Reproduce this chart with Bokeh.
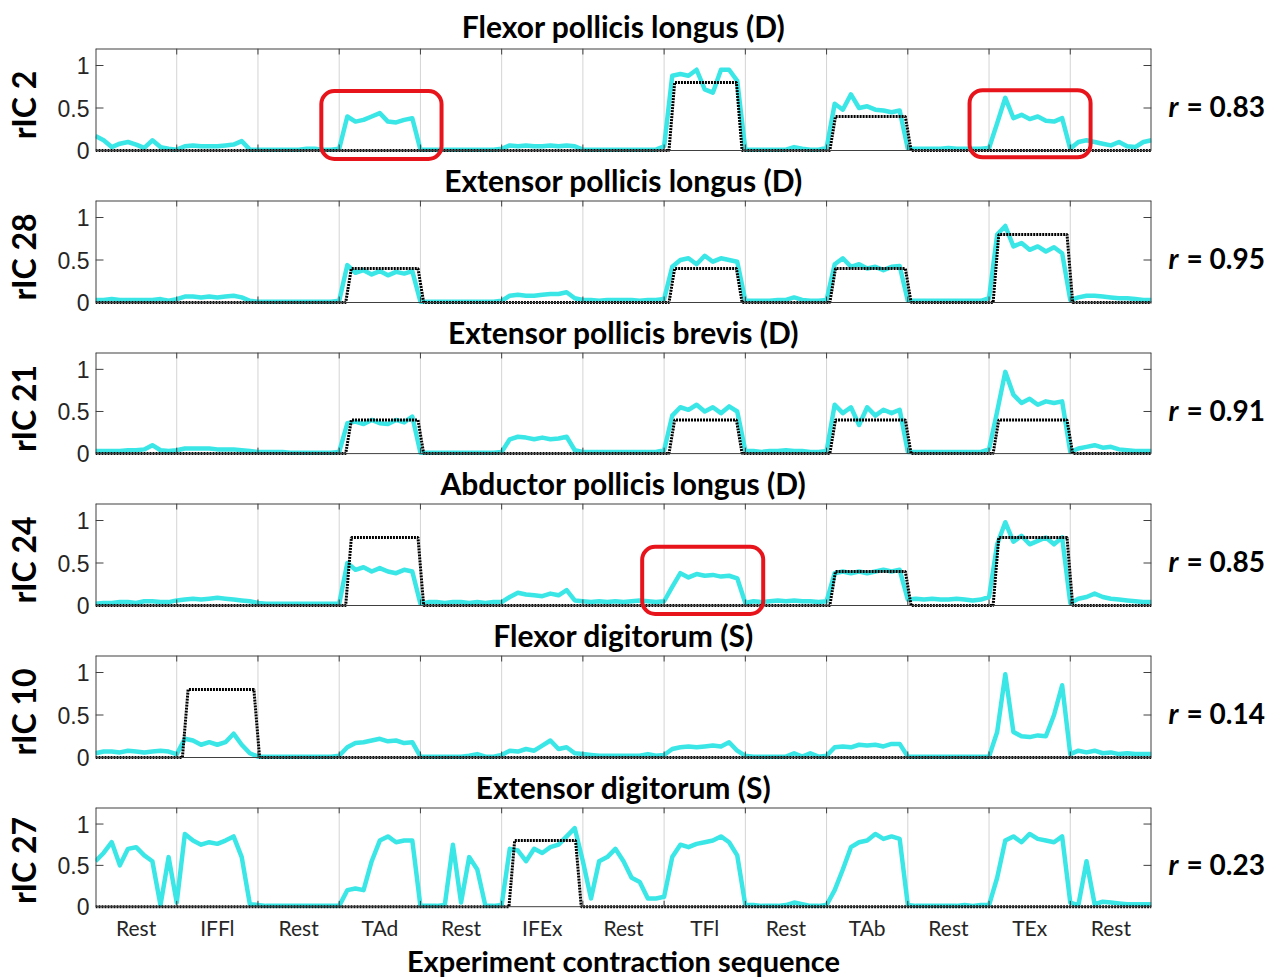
import numpy as np
from bokeh.plotting import figure
from bokeh.models import Range1d, FixedTicker, LinearAxis, BoxAnnotation
from bokeh.layouts import column
from bokeh.embed import file_html
from bokeh.resources import INLINE

# ---------------------------------------------------------------- data
phases = ["Rest", "IFFl", "Rest", "TAd", "Rest", "IFEx", "Rest",
          "TFl", "Rest", "TAb", "Rest", "TEx", "Rest"]

muscles = ["Flexor pollicis longus (D)", "Extensor pollicis longus (D)",
           "Extensor pollicis brevis (D)", "Abductor pollicis longus (D)",
           "Flexor digitorum (S)", "Extensor digitorum (S)"]
components = ["rIC 2", "rIC 28", "rIC 21", "rIC 24", "rIC 10", "rIC 27"]
r_values = [0.83, 0.95, 0.91, 0.85, 0.14, 0.23]

# expected activation level of each muscle per phase (dotted reference)
expected_fpl = [0, 0, 0, 0, 0, 0, 0, 0.8, 0, 0.4, 0, 0, 0]
expected_epl = [0, 0, 0, 0.4, 0, 0, 0, 0.4, 0, 0.4, 0, 0.8, 0]
expected_epb = [0, 0, 0, 0.4, 0, 0, 0, 0.4, 0, 0.4, 0, 0.4, 0]
expected_apl = [0, 0, 0, 0.8, 0, 0, 0, 0, 0, 0.4, 0, 0.8, 0]
expected_fd = [0, 0.8, 0, 0, 0, 0, 0, 0, 0, 0, 0, 0, 0]
expected_ed = [0, 0, 0, 0, 0, 0.8, 0, 0, 0, 0, 0, 0, 0]

# onset / offset of each contraction cue (in phase units)
cue_on = {1: 1.07, 3: 3.08, 5: 5.09, 7: 7.06, 9: 9.04, 11: 11.05}
cue_off = {1: 2.02, 3: 4.04, 5: 5.98, 7: 7.96, 9: 10.04, 11: 12.03}
cue_ramp = 0.07

# normalised component activity, ten samples per phase plus the end sample
ric2 = [0.17, 0.12, 0.04, 0.08, 0.10, 0.07, 0.03, 0.12, 0.04, 0.02,
        0.01, 0.05, 0.06, 0.05, 0.05, 0.05, 0.06, 0.07, 0.11, 0.01,
        0.01, 0.01, 0.01, 0.01, 0.01, 0.01, 0.02, 0.02, 0.01, 0.01,
        0.02, 0.40, 0.34, 0.36, 0.40, 0.44, 0.34, 0.33, 0.36, 0.38,
        0.01, 0.01, 0.01, 0.01, 0.01, 0.01, 0.01, 0.01, 0.01, 0.01,
        0.02, 0.06, 0.05, 0.06, 0.05, 0.05, 0.06, 0.05, 0.06, 0.05,
        0.01, 0.01, 0.01, 0.01, 0.01, 0.01, 0.01, 0.01, 0.01, 0.01,
        0.05, 0.88, 0.90, 0.88, 0.95, 0.72, 0.68, 0.95, 0.95, 0.82,
        0.01, 0.01, 0.01, 0.01, 0.01, 0.01, 0.04, 0.02, 0.01, 0.01,
        0.03, 0.55, 0.48, 0.66, 0.50, 0.52, 0.48, 0.47, 0.45, 0.47,
        0.02, 0.02, 0.02, 0.02, 0.02, 0.03, 0.02, 0.02, 0.02, 0.02,
        0.03, 0.32, 0.62, 0.38, 0.42, 0.37, 0.40, 0.35, 0.34, 0.38,
        0.02, 0.10, 0.12, 0.10, 0.08, 0.06, 0.10, 0.05, 0.04, 0.10,
        0.12]

ric28 = [0.03, 0.03, 0.04, 0.03, 0.03, 0.03, 0.03, 0.03, 0.04, 0.02,
         0.04, 0.07, 0.07, 0.06, 0.07, 0.06, 0.07, 0.08, 0.06, 0.02,
         0.01, 0.01, 0.01, 0.01, 0.01, 0.01, 0.01, 0.01, 0.01, 0.01,
         0.02, 0.44, 0.35, 0.38, 0.33, 0.37, 0.32, 0.36, 0.34, 0.37,
         0.01, 0.01, 0.01, 0.01, 0.01, 0.01, 0.01, 0.01, 0.01, 0.01,
         0.02, 0.08, 0.09, 0.08, 0.08, 0.09, 0.10, 0.10, 0.12, 0.05,
         0.03, 0.03, 0.02, 0.03, 0.03, 0.03, 0.03, 0.02, 0.03, 0.03,
         0.04, 0.42, 0.50, 0.52, 0.45, 0.55, 0.48, 0.52, 0.50, 0.48,
         0.02, 0.02, 0.02, 0.02, 0.03, 0.03, 0.06, 0.03, 0.02, 0.02,
         0.03, 0.45, 0.52, 0.42, 0.45, 0.40, 0.42, 0.38, 0.42, 0.43,
         0.02, 0.02, 0.02, 0.02, 0.02, 0.02, 0.02, 0.02, 0.02, 0.02,
         0.05, 0.80, 0.90, 0.66, 0.70, 0.62, 0.66, 0.60, 0.65, 0.58,
         0.03, 0.06, 0.08, 0.08, 0.07, 0.06, 0.05, 0.05, 0.04, 0.03,
         0.03]

ric21 = [0.03, 0.03, 0.03, 0.03, 0.04, 0.04, 0.05, 0.10, 0.04, 0.03,
         0.04, 0.06, 0.06, 0.06, 0.06, 0.05, 0.05, 0.05, 0.04, 0.03,
         0.02, 0.02, 0.02, 0.02, 0.01, 0.01, 0.01, 0.01, 0.01, 0.01,
         0.02, 0.36, 0.38, 0.35, 0.40, 0.36, 0.35, 0.40, 0.37, 0.44,
         0.01, 0.01, 0.01, 0.01, 0.01, 0.01, 0.01, 0.01, 0.01, 0.01,
         0.02, 0.17, 0.20, 0.19, 0.17, 0.19, 0.17, 0.18, 0.20, 0.04,
         0.02, 0.02, 0.02, 0.02, 0.02, 0.02, 0.02, 0.02, 0.02, 0.02,
         0.04, 0.45, 0.55, 0.52, 0.58, 0.50, 0.55, 0.48, 0.56, 0.50,
         0.03, 0.03, 0.02, 0.03, 0.03, 0.04, 0.03, 0.03, 0.02, 0.02,
         0.03, 0.58, 0.48, 0.55, 0.34, 0.55, 0.45, 0.52, 0.48, 0.52,
         0.02, 0.02, 0.02, 0.02, 0.02, 0.02, 0.02, 0.02, 0.02, 0.02,
         0.05, 0.50, 0.97, 0.70, 0.60, 0.65, 0.58, 0.62, 0.60, 0.62,
         0.02, 0.06, 0.08, 0.10, 0.07, 0.08, 0.05, 0.04, 0.03, 0.03,
         0.03]

ric24 = [0.02, 0.03, 0.03, 0.04, 0.04, 0.03, 0.05, 0.05, 0.04, 0.04,
         0.06, 0.07, 0.08, 0.07, 0.08, 0.09, 0.08, 0.07, 0.06, 0.05,
         0.03, 0.02, 0.02, 0.02, 0.02, 0.02, 0.02, 0.02, 0.02, 0.02,
         0.02, 0.50, 0.42, 0.45, 0.40, 0.44, 0.40, 0.38, 0.42, 0.40,
         0.02, 0.04, 0.04, 0.03, 0.04, 0.04, 0.03, 0.04, 0.03, 0.04,
         0.04, 0.10, 0.15, 0.13, 0.12, 0.11, 0.14, 0.12, 0.18, 0.06,
         0.05, 0.04, 0.05, 0.04, 0.05, 0.04, 0.05, 0.06, 0.05, 0.04,
         0.05, 0.22, 0.38, 0.33, 0.37, 0.35, 0.36, 0.34, 0.35, 0.32,
         0.03, 0.05, 0.04, 0.05, 0.06, 0.05, 0.06, 0.05, 0.05, 0.04,
         0.05, 0.38, 0.40, 0.38, 0.40, 0.38, 0.40, 0.42, 0.40, 0.42,
         0.07, 0.08, 0.07, 0.08, 0.07, 0.07, 0.08, 0.07, 0.06, 0.07,
         0.10, 0.72, 0.98, 0.75, 0.82, 0.72, 0.76, 0.80, 0.72, 0.80,
         0.03, 0.08, 0.10, 0.14, 0.10, 0.08, 0.07, 0.06, 0.05, 0.04,
         0.04]

ric10 = [0.05, 0.07, 0.07, 0.06, 0.08, 0.07, 0.06, 0.07, 0.08, 0.07,
         0.04, 0.22, 0.20, 0.15, 0.18, 0.15, 0.18, 0.28, 0.15, 0.05,
         0.01, 0.01, 0.01, 0.01, 0.01, 0.01, 0.01, 0.01, 0.01, 0.01,
         0.02, 0.12, 0.17, 0.18, 0.20, 0.22, 0.19, 0.20, 0.17, 0.18,
         0.01, 0.01, 0.01, 0.01, 0.01, 0.01, 0.02, 0.04, 0.01, 0.01,
         0.03, 0.08, 0.07, 0.10, 0.08, 0.14, 0.20, 0.10, 0.12, 0.05,
         0.04, 0.03, 0.02, 0.02, 0.02, 0.02, 0.02, 0.02, 0.04, 0.02,
         0.03, 0.10, 0.12, 0.13, 0.12, 0.13, 0.14, 0.13, 0.18, 0.08,
         0.02, 0.01, 0.01, 0.01, 0.01, 0.01, 0.05, 0.01, 0.05, 0.01,
         0.02, 0.12, 0.13, 0.12, 0.15, 0.14, 0.15, 0.13, 0.16, 0.16,
         0.01, 0.01, 0.01, 0.01, 0.01, 0.01, 0.01, 0.01, 0.01, 0.01,
         0.01, 0.30, 0.98, 0.30, 0.25, 0.24, 0.26, 0.25, 0.50, 0.85,
         0.04, 0.08, 0.06, 0.08, 0.05, 0.06, 0.04, 0.05, 0.04, 0.04,
         0.04]

ric27 = [0.55, 0.65, 0.78, 0.50, 0.70, 0.72, 0.62, 0.55, 0.02, 0.60,
         0.05, 0.88, 0.80, 0.75, 0.78, 0.76, 0.80, 0.85, 0.60, 0.03,
         0.02, 0.01, 0.01, 0.01, 0.01, 0.01, 0.01, 0.01, 0.01, 0.01,
         0.01, 0.20, 0.22, 0.20, 0.55, 0.80, 0.85, 0.78, 0.80, 0.80,
         0.01, 0.01, 0.01, 0.02, 0.75, 0.05, 0.60, 0.45, 0.01, 0.01,
         0.02, 0.70, 0.68, 0.55, 0.70, 0.65, 0.72, 0.75, 0.85, 0.95,
         0.55, 0.10, 0.55, 0.60, 0.70, 0.55, 0.35, 0.30, 0.10, 0.10,
         0.12, 0.60, 0.75, 0.72, 0.76, 0.78, 0.80, 0.85, 0.78, 0.62,
         0.02, 0.02, 0.01, 0.01, 0.01, 0.02, 0.05, 0.03, 0.01, 0.01,
         0.02, 0.20, 0.45, 0.72, 0.78, 0.80, 0.88, 0.82, 0.85, 0.82,
         0.02, 0.01, 0.01, 0.01, 0.01, 0.01, 0.01, 0.02, 0.01, 0.02,
         0.02, 0.35, 0.80, 0.85, 0.78, 0.88, 0.82, 0.80, 0.78, 0.85,
         0.05, 0.02, 0.55, 0.03, 0.06, 0.05, 0.04, 0.03, 0.03, 0.03,
         0.03]

traces = [ric2, ric28, ric21, ric24, ric10, ric27]
expected = [expected_fpl, expected_epl, expected_epb,
            expected_apl, expected_fd, expected_ed]

# highlighted episodes: (panel, left, right, bottom, top)
highlights = [(0, 2.78, 4.26, -0.10, 0.70),
              (0, 10.76, 12.25, -0.08, 0.71),
              (3, 6.73, 8.22, -0.10, 0.69)]

# ---------------------------------------------------------------- style
CYAN = "#3BE6E6"
RED = "#E8141B"
AXIS = "#404040"
TEXT = "#262626"
FONT = "Lato"

n_phase = len(phases)
boundaries = list(range(1, n_phase))
centers = [i + 0.5 for i in range(n_phase)]
t = np.arange(n_phase * 10 + 1) / 10.0

PAGE_H = 980
Y_MAX = 1.2
BOX_H = 102                                # pixel height of the 0 .. Y_MAX box
ZERO_PX = [150, 302, 454, 605, 757, 909]   # page row of each panel's zero line
PAD = 11                                   # free strip below each zero line
PAD_LAST = 7
PX_PER_UNIT = BOX_H / Y_MAX
tick_dy = 6 / PX_PER_UNIT
tick_dx = 8 * n_phase / 1058


def cue_profile(levels):
    xs, ys = [0.0], [0.0]
    for i, lvl in enumerate(levels):
        if lvl > 0:
            on, off = cue_on[i], cue_off[i]
            xs += [on, on + cue_ramp, off - cue_ramp, off]
            ys += [0.0, lvl, lvl, 0.0]
    xs.append(float(n_phase))
    ys.append(0.0)
    return xs, ys


def label_axis(text, style, standoff):
    ax = LinearAxis(ticker=FixedTicker(ticks=[0.52]),
                    major_label_overrides={0.52: text})
    ax.major_tick_in = 0
    ax.major_tick_out = 0
    ax.minor_tick_line_color = None
    ax.axis_line_color = None
    ax.major_label_standoff = standoff
    ax.major_label_text_font = FONT
    ax.major_label_text_font_style = style
    ax.major_label_text_font_size = "28px"
    ax.major_label_text_color = "black"
    return ax


def heading_style(ax, text, size, standoff):
    ax.axis_label = text
    ax.axis_label_text_font = FONT
    ax.axis_label_text_font_style = "bold"
    ax.axis_label_text_font_size = size
    ax.axis_label_text_color = "black"
    ax.axis_label_standoff = standoff


figs = []
page_y = 0
for k in range(6):
    first, last = k == 0, k == 5
    pad = PAD_LAST if last else PAD
    top = ZERO_PX[k] - BOX_H - page_y
    if last:
        bottom = PAGE_H - (ZERO_PX[k] + pad)
    else:
        # the strip below holds the heading of the next panel
        bottom = ZERO_PX[k + 1] - BOX_H - (ZERO_PX[k] + pad)
    height = top + BOX_H + pad + bottom
    page_y += height

    p = figure(width=1279, height=height,
               title=muscles[0] if first else None,
               x_range=Range1d(0, n_phase),
               y_range=Range1d(-pad / PX_PER_UNIT, Y_MAX),
               output_backend="svg", toolbar_location=None,
               min_border_left=93, min_border_right=128,
               min_border_top=top, min_border_bottom=bottom)
    p.background_fill_color = "white"
    p.border_fill_color = "white"
    p.outline_line_color = None
    p.xgrid.grid_line_color = None
    p.ygrid.grid_line_color = None

    if first:
        p.title.align = "center"
        p.title.text_font = FONT
        p.title.text_font_style = "bold"
        p.title.text_font_size = "30px"
        p.title.text_color = "black"
        p.title.standoff = 10

    yax = p.yaxis[0]
    yax.ticker = FixedTicker(ticks=[0, 0.5, 1])
    yax.major_label_overrides = {0: "0", 0.5: "0.5", 1: "1"}
    yax.major_tick_in = 0
    yax.major_tick_out = 0
    yax.minor_tick_line_color = None
    yax.axis_line_color = None
    yax.major_label_text_font = "Liberation Sans"
    yax.major_label_text_font_size = "23px"
    yax.major_label_text_color = TEXT
    yax.major_label_standoff = 6
    yax.axis_label = components[k]
    yax.axis_label_text_font = FONT
    yax.axis_label_text_font_style = "bold"
    yax.axis_label_text_font_size = "32px"
    yax.axis_label_text_color = "black"
    yax.axis_label_standoff = 12

    xax = p.xaxis[0]
    xax.major_tick_in = 0
    xax.major_tick_out = 0
    xax.minor_tick_line_color = None
    xax.axis_line_color = None
    if last:
        xax.ticker = FixedTicker(ticks=centers)
        xax.major_label_overrides = {c: name for c, name in zip(centers, phases)}
        xax.major_label_text_font = FONT
        xax.major_label_text_font_size = "21px"
        xax.major_label_text_color = TEXT
        xax.major_label_standoff = 1
        heading_style(xax, "Experiment contraction sequence", "29px", 0)
    else:
        xax.ticker = FixedTicker(ticks=[])
        heading_style(xax, muscles[k + 1], "30px", 0)

    # r value beside each panel
    p.add_layout(label_axis("r", "bold italic", 17), "right")
    p.add_layout(label_axis("= %.2f" % r_values[k], "bold", 5), "right")

    nb = len(boundaries)
    # vertical separators between phases
    p.segment(x0=boundaries, y0=[0] * nb, x1=boundaries, y1=[Y_MAX] * nb,
              line_color="#d4d4d4", line_width=1)

    # component activity and the expected cue profile
    p.line(t, traces[k], line_color=CYAN, line_width=4.5, line_join="round")
    cx, cy = cue_profile(expected[k])
    p.line(cx, cy, line_color="black", line_width=3, line_dash="2 1")

    # axes box with inward ticks on all sides
    p.segment(x0=[0, n_phase, 0], y0=[0, 0, Y_MAX],
              x1=[0, n_phase, n_phase], y1=[Y_MAX, Y_MAX, Y_MAX],
              line_color=AXIS, line_width=2)
    p.segment(x0=[0], y0=[0], x1=[n_phase], y1=[0],
              line_color=AXIS, line_width=1)
    p.segment(x0=boundaries, y0=[Y_MAX] * nb,
              x1=boundaries, y1=[Y_MAX - tick_dy] * nb,
              line_color=AXIS, line_width=1)
    p.segment(x0=boundaries, y0=[0] * nb,
              x1=boundaries, y1=[tick_dy] * nb,
              line_color=AXIS, line_width=1)
    yt = [0.5, 1.0]
    p.segment(x0=[0] * 2, y0=yt, x1=[tick_dx] * 2, y1=yt,
              line_color=AXIS, line_width=1)
    p.segment(x0=[n_phase] * 2, y0=yt, x1=[n_phase - tick_dx] * 2, y1=yt,
              line_color=AXIS, line_width=1)

    for (pi, l, r, b, tp) in highlights:
        if pi == k:
            p.add_layout(BoxAnnotation(left=l, right=r, bottom=b, top=tp,
                                       fill_alpha=0, line_color=RED,
                                       line_alpha=1.0, line_width=4,
                                       border_radius=13))
    figs.append(p)

layout = column(*figs, spacing=0)
open("out.html", "w").write(file_html(layout, INLINE, "Component activity"))
